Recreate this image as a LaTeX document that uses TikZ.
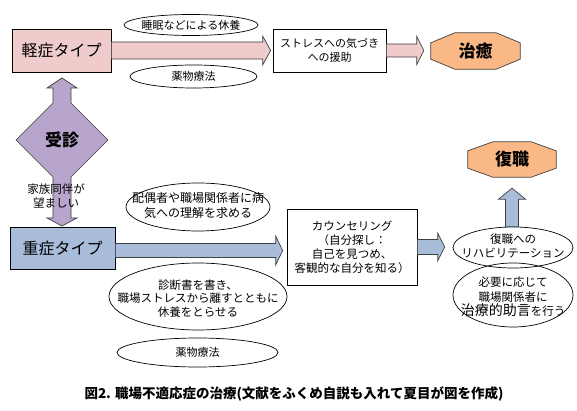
\documentclass[tikz,border=0pt]{standalone}
\usepackage{fontspec}
\setmainfont{Noto Sans CJK JP}
\usetikzlibrary{shapes.geometric,calc}
\definecolor{pinkfill}{HTML}{EFCBCB}
\definecolor{bluefill}{HTML}{A9BDDA}
\definecolor{purplefill}{HTML}{B7A5CB}
\definecolor{orangefill}{HTML}{F9B886}
\definecolor{edgecol}{HTML}{404040}
\newcommand\fs[2]{\fontsize{#1}{#2}\selectfont}
% horizontal block arrow: from, to, body half, head half, head length, style
\newcommand\hblock[6]{\draw[#6] let \p1=(#1), \p2=(#2) in
  (\x1,\y1+#3pt) -- (\x2-#5pt,\y1+#3pt) -- (\x2-#5pt,\y1+#4pt) -- (\x2,\y1)
  -- (\x2-#5pt,\y1-#4pt) -- (\x2-#5pt,\y1-#3pt) -- (\x1,\y1-#3pt) -- cycle;}
% vertical (upward) block arrow
\newcommand\vblock[6]{\draw[#6] let \p1=(#1), \p2=(#2) in
  (\x1+#3pt,\y1) -- (\x1+#3pt,\y2-#5pt) -- (\x1+#4pt,\y2-#5pt) -- (\x1,\y2)
  -- (\x1-#4pt,\y2-#5pt) -- (\x1-#3pt,\y2-#5pt) -- (\x1-#3pt,\y1) -- cycle;}
% octagon around a node
\newcommand\octagonaround[4]{\draw[#4] ($(#1.north west)+(#2,0)$) -- ($(#1.north east)+(-#2,0)$)
  -- ($(#1.north east)+(0,#3)$) -- ($(#1.south east)+(0,-#3)$) -- ($(#1.south east)+(-#2,0)$)
  -- ($(#1.south west)+(#2,0)$) -- ($(#1.south west)+(0,-#3)$) -- ($(#1.north west)+(0,#3)$) -- cycle;}
\begin{document}
\begin{tikzpicture}[x=1pt,y=-1pt,
  box/.style={draw=black,line width=0.7pt,inner sep=0pt,align=center},
  ell/.style={ellipse,draw=black,line width=0.7pt,inner sep=0pt},
  txt/.style={inner sep=0pt,align=center},
  fatpink/.style={draw=edgecol,line width=0.7pt,fill=pinkfill},
  fatblue/.style={draw=edgecol,line width=0.7pt,fill=bluefill},
  octo/.style={draw=edgecol,line width=0.7pt,fill=orangefill},
  hold/.style={inner sep=0pt}]
\useasboundingbox[fill=white] (0,0) rectangle (577,411);

% ---- purple diamond with up/down arrows
\draw[draw=edgecol,line width=0.7pt,fill=purplefill]
  (62,78) -- (77,88) -- (71,88) -- (71,103) -- (108,140) -- (71,177) -- (71,218)
  -- (77,218) -- (62,226) -- (47,218) -- (53,218) -- (53,177) -- (16,140)
  -- (53,103) -- (53,88) -- (47,88) -- cycle;
\node[txt,font=\fs{17}{20}\bfseries] (visit) at (62,140) {受診};
\node[txt,font=\fs{11.5}{14}] (family) at (56,196) {家族同伴が\\望ましい};

% ---- boxes
\node[box,fill=pinkfill,minimum width=99pt,minimum height=43pt,font=\fs{16}{19}] (mild) at (61.5,50.5) {軽症タイプ};
\node[box,fill=bluefill,minimum width=105pt,minimum height=42pt,font=\fs{16}{19}] (severe) at (62.5,248) {重症タイプ};
\node[box,fill=white,minimum width=113pt,minimum height=43pt,font=\fs{11}{14}] (stress) at (329.5,50.5) {ストレスへの気づき\\への援助};
\node[box,fill=white,minimum width=130pt,minimum height=76pt,font=\fs{11.5}{14}] (counsel) at (352,247)
  {カウンセリング\\（自分探し：\\自己を見つめ、\\客観的な自分を知る）};

% ---- octagons
\node[hold,minimum width=89pt,minimum height=36pt] (cure) at (475.5,51) {};
\octagonaround{cure}{24}{10}{octo}
\node[txt,font=\fs{17}{20}\bfseries] (curet) at (cure) {治癒};
\node[hold,minimum width=88pt,minimum height=35pt] (rework) at (512,159.5) {};
\octagonaround{rework}{25}{9}{octo}
\node[txt,font=\fs{17}{20}\bfseries] (reworkt) at (rework) {復職};

% ---- ellipses
\node[ell,minimum width=134pt,minimum height=21pt] (e1) at (191,25) {};
\node[txt,font=\fs{11}{14}] (e1t) at (e1) {睡眠などによる休養};
\node[ell,minimum width=127pt,minimum height=23pt] (e2) at (193.5,76.5) {};
\node[txt,font=\fs{11}{14}] (e2t) at (e2) {薬物療法};
\node[ell,minimum width=144pt,minimum height=48pt] (e3) at (198,207) {};
\node[txt,font=\fs{12}{15}] (e3t) at (198,205.5) {配偶者や職場関係者に病\\気への理解を求める};
\node[ell,minimum width=178pt,minimum height=67pt] (e6) at (198,296.5) {};
\node[txt,font=\fs{11.5}{13.5}] (e6t) at (198,298.5) {診断書を書き、\\職場ストレスから離すとともに\\休養をとらせる};
\node[ell,minimum width=161pt,minimum height=29pt] (e7) at (197.5,352.5) {};
\node[txt,font=\fs{11}{14}] (e7t) at (e7) {薬物療法};
\node[ell,minimum width=120pt,minimum height=41pt] (e4) at (513,247.5) {};
\node[txt,font=\fs{11.5}{14}] (e4t) at (513,246) {復職への\\リハビリテーション};
\node[ell,minimum width=120pt,minimum height=64pt] (e5) at (513,295) {};
\node[txt,font=\fs{11.5}{14.5}] (e5t) at (513,297) {必要に応じて\\職場関係者に\\{\fs{14}{16}治療的助言}を行う};

% ---- block arrows
\hblock{mild.east}{$(stress.west)+(-2,0)$}{8.5}{14.5}{8}{fatpink}
\hblock{stress.east}{$(cure.west)+(-7,0)$}{6.5}{14}{7}{fatpink}
\hblock{$(severe.east)+(0,2.5)$}{$(counsel.west)+(-4,0)$}{7}{14.5}{7}{fatblue}
\hblock{counsel.east}{$(e4.west)+(-8,0)$}{7.5}{14}{7}{fatblue}
\vblock{$(e4.north)+(-1,0)$}{$(rework.south)+(0,11)$}{6.5}{13.5}{11}{fatblue}

% ---- caption
\node[txt,font=\fs{13.5}{16}\bfseries] (caption) at (294,394) {図2. 職場不適応症の治療(文献をふくめ自説も入れて夏目が図を作成)};
\end{tikzpicture}
\end{document}
